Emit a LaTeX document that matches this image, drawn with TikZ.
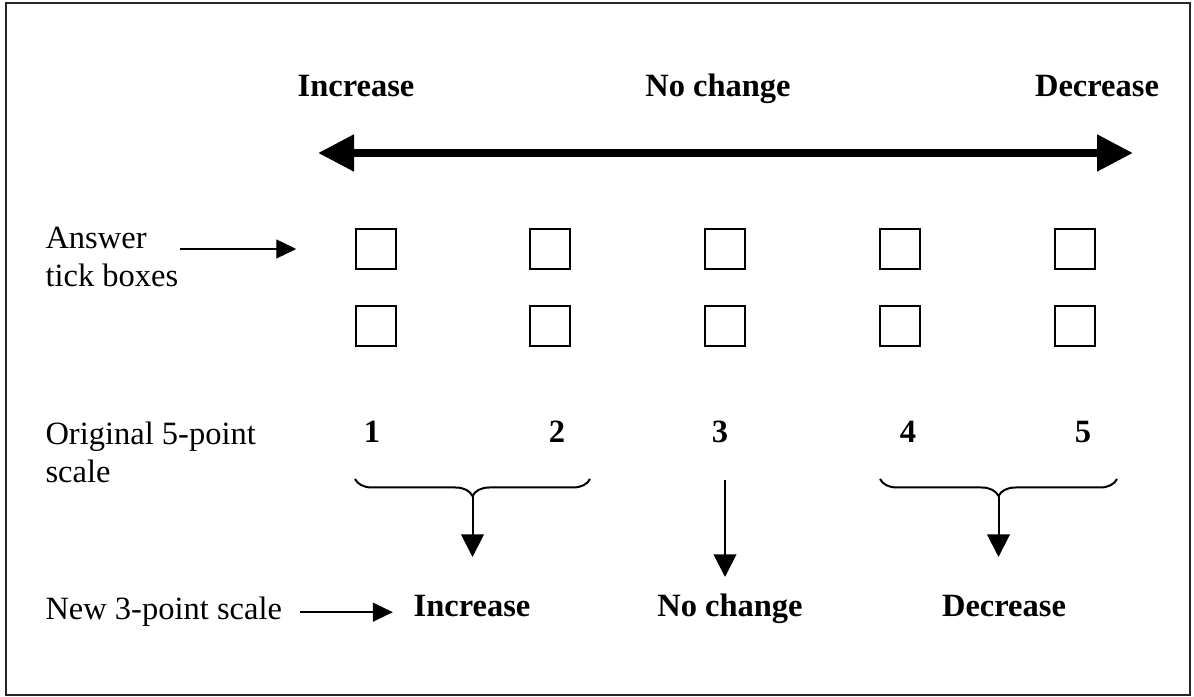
\documentclass[tikz,border=0pt]{standalone}
\usepackage{fontspec}
\setmainfont{Liberation Serif}
\usetikzlibrary{arrows.meta,decorations.pathreplacing,positioning}

\begin{document}
\begin{tikzpicture}[x=0.4pt,y=-0.4pt,
    every node/.style={font=\fontsize{13}{15.2}\selectfont},
    heading/.style={font=\fontsize{13}{15.2}\selectfont\bfseries,anchor=base},
    side/.style={align=left,anchor=base west,inner sep=0pt},
    tickbox/.style={draw,line width=0.6pt,minimum size=16pt,inner sep=0pt},
    thin/.style={line width=0.55pt,-{Triangle[length=8pt,width=7.6pt]}},
    drop/.style={line width=0.8pt,-{Triangle[length=9pt,width=9pt]}},
    curly/.style={line width=0.8pt,decorate,decoration={brace,mirror,amplitude=6.8pt}}]
    \def \rowa {249}
    \def \rowb {326}
    \def \nums {443} % baseline of the scale numbers
    \useasboundingbox (0,0) rectangle (1194,697);
    \draw[line width=1.1pt,black!85] (6,3) rectangle (1190,695);

    % top scale
    \node[heading] (inc) at (356,97) {Increase};
    \node[heading] (mid) at (718,97) {No change};
    \node[heading] (dec) at (1097,97) {Decrease};
    \coordinate (lo) at (318,153);
    \coordinate (hi) at (1133,153);
    \draw[line width=3.2pt,
      {Triangle[length=14.4pt,width=14pt]}-{Triangle[length=14.4pt,width=14pt]}]
      (lo) -- (hi);

    % tick boxes
    \foreach \x [count=\i] in {376,550,725,900,1075}
    {
      \node[tickbox] (top\i) at (\x,\rowa) {};
      \node[tickbox] (bot\i) at (\x,\rowb) {};
    }
    \foreach \x [count=\i] in {372,557,720,908,1083}
      \node[heading] (n\i) at (\x,\nums) {\i};

    % labels on the left (base is the last line)
    \node[side] (ans) at (45,287) {Answer\\tick boxes};
    \node[side] (orig) at (45,483) {Original 5-point\\scale};
    \node[side] (new) at (45,620) {New 3-point scale};
    \coordinate (ansa) at (180,\rowa);
    \draw[thin] (ansa) -- ([xshift=-23.6pt]top1.west);

    % new scale
    \node[heading] (low1) at (472,617) {Increase};
    \node[heading] (low2) at (730,617) {No change};
    \node[heading] (low3) at (1004,617) {Decrease};
    \draw[thin,shorten <=7pt,shorten >=4.8pt] (new.east) -- (new.east -| low1.west);

    % braces and drops
    \coordinate (b1a) at (355,479);
    \coordinate (b1b) at (590,479);
    \coordinate (b2a) at (880,479);
    \coordinate (b2b) at (1117,479);
    \draw[curly] (b1a) -- (b1b);
    \draw[curly] (b2a) -- (b2b);
    \coordinate (c1) at (472.5,496);
    \coordinate (t1) at (472.5,557);
    \coordinate (c2) at (725,480);
    \coordinate (t2) at (725,577);
    \coordinate (c3) at (998.5,496);
    \coordinate (t3) at (998.5,557);
    \foreach \s in {1,2,3}
      \draw[drop] (c\s) -- (t\s);
\end{tikzpicture}
\end{document}
